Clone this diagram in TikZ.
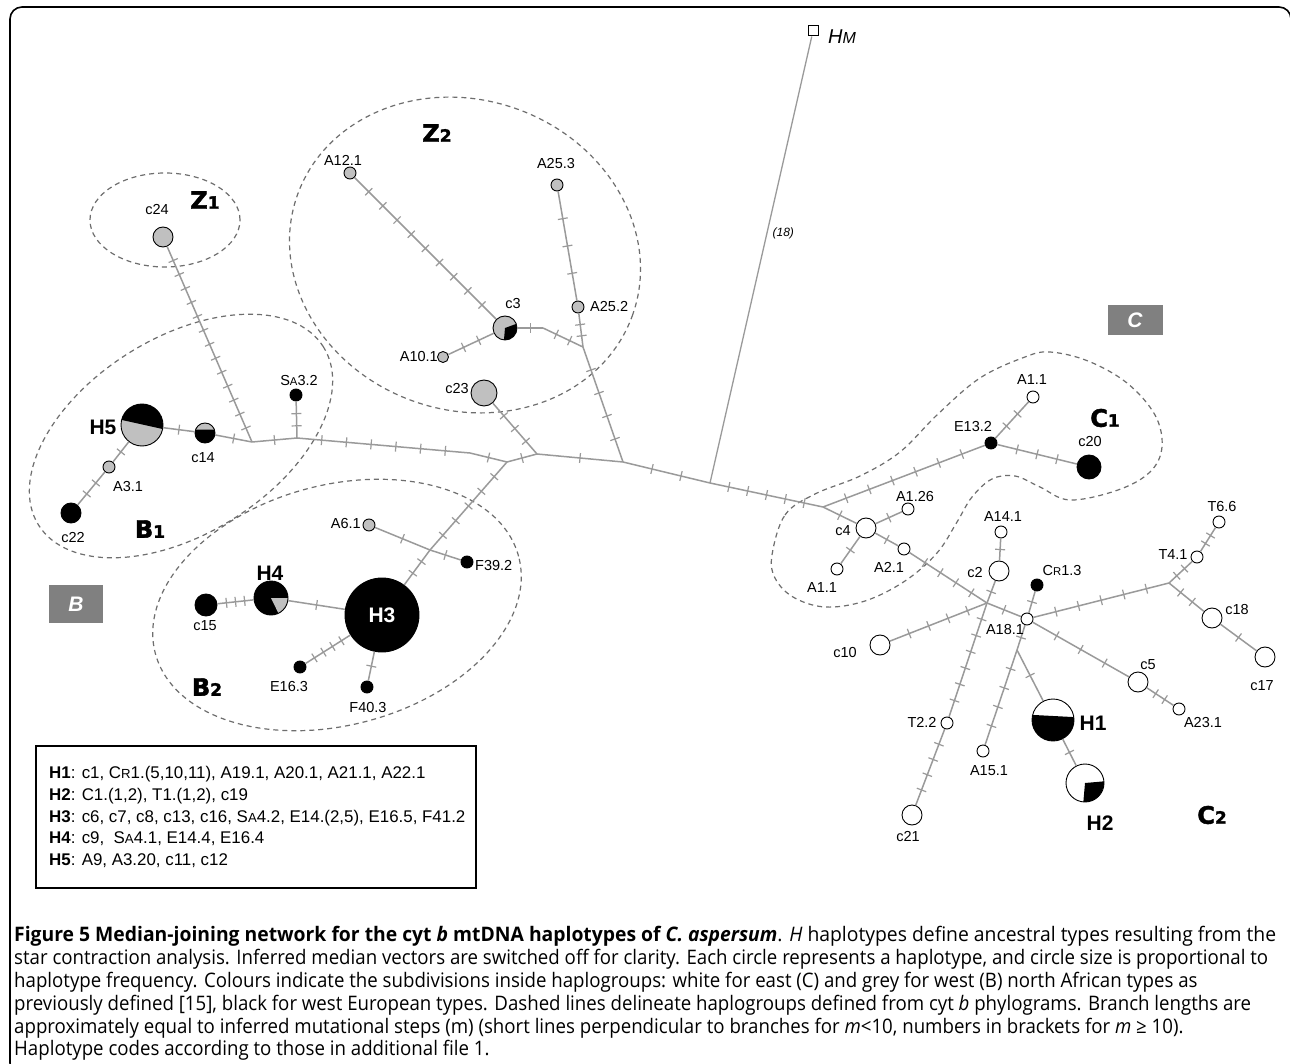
\documentclass[tikz,border=0pt]{standalone}
\usepackage{fontspec}
\setmainfont{Liberation Sans}
\newfontfamily\capfont{Open Sans}
\newfontfamily\grpfont[FakeBold=2]{DejaVu Sans}
\usetikzlibrary{calc,decorations.markings}
\definecolor{edgegray}{HTML}{9A9A9A}
\definecolor{hgray}{HTML}{C0C0C0}
\definecolor{dashgray}{HTML}{6E6E6E}
\definecolor{boxgray}{HTML}{808080}
\newcommand\lsize{\fontsize{14.5}{16}\selectfont}
\newcommand\sca[1]{\scalebox{0.78}{#1}}
\newcommand\grp[2]{{\grpfont\bfseries\fontsize{24}{24}\selectfont #1{\fontsize{17}{17}\selectfont #2}}}
\newsavebox\capbox
\newcommand\capsz{\capfont\fontsize{20}{23}\selectfont}
\newcommand\capmeasure[2]{\sbox\capbox{\capsz #2}%
  \pgfmathsetmacro\capfac{#1/\wd\capbox}\xdef\capG{\capfac}\scalebox{\capG}[1]{\usebox\capbox}}
\newcommand\capfitw[2]{\sbox\capbox{\capsz #2}%
  \pgfmathsetmacro\capfacl{#1/\wd\capbox}\scalebox{\capfacl}[1]{\usebox\capbox}}
\newcommand\capuse[1]{\sbox\capbox{\capsz #1}\scalebox{\capG}[1]{\usebox\capbox}}
\tikzset{
  edge/.style={draw=edgegray, line width=1.5pt},
  tk/.style={postaction={decorate, decoration={markings,
      mark=between positions {1/(#1+1)} and {(#1+0.5)/(#1+1)} step {1/(#1+1)} with {\draw[draw=edgegray, line width=1.2pt] (0pt,-5pt) -- (0pt,5pt);}}}},
  hap/.style={circle, draw=black, line width=0.9pt, inner sep=0pt, minimum size=#1},
  hg/.style={hap=#1, fill=hgray},
  hb/.style={hap=#1, fill=black},
  hw/.style={hap=#1, fill=white},
  lbl/.style={font=\lsize, inner sep=0pt},
  hlab/.style={font=\bfseries\fontsize{21}{21}\selectfont, inner sep=0pt},
  grpc/.style={dashed, draw=dashgray, line width=1.2pt, dash pattern=on 5pt off 4pt},
  gbox/.style={fill=boxgray, text=white, font=\bfseries\itshape\fontsize{21}{21}\selectfont, inner sep=0pt},
  lgline/.style={anchor=base west, inner sep=0pt, font=\fontsize{16.9}{18}\selectfont},
  capl/.style={anchor=base west, inner sep=0pt}
}
\begin{document}
\begin{tikzpicture}[x=1pt, y=-1pt]
\useasboundingbox (0,0) rectangle (1290,1064);
\fill[white] (0,0) rectangle (1290,1064);
\draw[line width=1.6pt, rounded corners=12pt] (10,7) rectangle (1291,1075);

% group outlines
\draw[grpc] (165,220) ellipse [x radius=75pt, y radius=47pt];
\draw[grpc, rotate around={-20:(465,255)}] (465,255) ellipse [x radius=178pt, y radius=155pt];
\draw[grpc, rotate around={32:(181,436)}] (181,436) ellipse [x radius=168pt, y radius=98pt];
\draw[grpc, rotate around={15:(337,605)}] (337,605) ellipse [x radius=188pt, y radius=120pt];
\draw[grpc] plot[smooth cycle, tension=0.6] coordinates {(772,555) (785,515) (815,494) (860,476) (900,452) (938,414) (980,378) (1025,357) (1050,352) (1088,361) (1127,383) (1155,415) (1162,447) (1150,472) (1118,490) (1070,500) (1040,487) (1015,476) (992,479) (972,497) (957,522) (937,553) (905,581) (865,601) (825,607) (793,597) (775,578)};

% junctions
\coordinate (J1) at (252,442);
\coordinate (J2) at (297,438);
\coordinate (Bk) at (470,453);
\coordinate (J3) at (507,462);
\coordinate (J4) at (537,454);
\coordinate (J5) at (623,462);
\coordinate (J6) at (710,483);
\coordinate (J7) at (823,507);
\coordinate (Jc3) at (583,347);
\coordinate (Kc3) at (543,328);
\coordinate (X1) at (430,550);
\coordinate (X2) at (987,603);
\coordinate (Tj) at (1169,583);
\coordinate (Yj) at (1017,650);

% haplotype nodes, left
\node[hg=20pt] (c24) at (163,237) {};
\node[hg=12pt] (A121) at (350,173) {};
\node[hg=12pt] (A253) at (557,185) {};
\node[hg=12pt] (A252) at (578,307) {};
\node[hg=24pt, path picture={\fill[black] (path picture bounding box.center) -- ++(20:12pt) arc[start angle=20, end angle=-95, radius=12pt] -- cycle;}] (c3) at (505,328) {};
\node[hg=11pt] (A101) at (443,357) {};
\node[hg=26pt] (c23) at (484,393) {};
\node[hb=12pt] (SA32) at (296,395) {};
\node[hg=42pt, path picture={\fill[black] ([shift={(-11:21pt)}]path picture bounding box.center) arc[start angle=-11, end angle=166, radius=21pt] -- cycle;}] (H5) at (142,425) {};
\node[hb=20pt, path picture={\fill[hgray] ([shift={(20:10pt)}]path picture bounding box.center) arc[start angle=20, end angle=160, radius=10pt] -- cycle;}] (c14) at (205,433) {};
\node[hg=12pt] (A31) at (109,467) {};
\node[hb=20pt] (c22) at (71,513) {};
\node[hg=12pt] (A61) at (369,525) {};
\node[hb=12pt] (F392) at (467,562) {};
\node[hb=34pt, path picture={\fill[hgray] (path picture bounding box.center) -- ++(0:17pt) arc[start angle=0, end angle=-64, radius=17pt] -- cycle;}] (H4) at (271,598) {};
\node[hb=22pt] (c15) at (206,605) {};
\node[hb=74pt, text=white, font=\bfseries\fontsize{21}{21}\selectfont] (H3) at (382,615) {H3};
\node[hb=12pt] (E163) at (300,667) {};
\node[hb=12pt] (F403) at (367,687) {};
\node[draw=black, line width=1pt, fill=white, minimum size=10pt, inner sep=0pt] (HM) at (813,31) {};

% haplotype nodes, right
\node[hw=12pt] (A11a) at (1033,397) {};
\node[hb=12pt] (E132) at (991,443) {};
\node[hb=24pt] (c20) at (1089,467) {};
\node[hw=12pt] (A126) at (908,509) {};
\node[hw=20pt] (c4) at (866,528) {};
\node[hw=12pt] (A11b) at (837,569) {};
\node[hw=12pt] (A21) at (904,549) {};
\node[hw=12pt] (A141) at (1001,532) {};
\node[hw=20pt] (c2) at (999,571) {};
\node[hb=12pt] (Cr13) at (1037,585) {};
\node[hw=12pt] (A181) at (1027,619) {};
\node[hw=12pt] (T66) at (1219,522) {};
\node[hw=12pt] (T41) at (1197,557) {};
\node[hw=20pt] (c18) at (1212,618) {};
\node[hw=20pt] (c17) at (1265,657) {};
\node[hw=20pt] (c10) at (880,645) {};
\node[hw=20pt] (c5) at (1138,682) {};
\node[hw=12pt] (A231) at (1179,709) {};
\node[hw=12pt] (T22) at (947,723) {};
\node[hw=12pt] (A151) at (983,751) {};
\node[hw=20pt] (c21) at (912,815) {};
\node[hw=42pt, path picture={\fill[black] ([shift={(166:21pt)}]path picture bounding box.center) arc[start angle=166, end angle=368, radius=21pt] -- cycle;}] (H1) at (1053,720) {};
\node[hw=38pt, path picture={\fill[black] (path picture bounding box.center) -- ++(5:19pt) arc[start angle=5, end angle=-95, radius=19pt] -- cycle;}] (H2) at (1085,783) {};

% branches
\draw[edge, tk=13] (c24) -- (J1);
\draw[edge, tk=1] (H5) -- (c14);
\draw[edge, tk=1] (c14) -- (J1);
\draw[edge, tk=1] (J1) -- (J2);
\draw[edge, tk=2] (SA32) -- (J2);
\draw[edge, tk=6] (J2) -- (Bk);
\draw[edge, tk=1] (Bk) -- (J3);
\draw[edge, tk=1] (H5) -- (A31);
\draw[edge, tk=2] (A31) -- (c22);
\draw[edge, tk=1] (J3) -- (J4);
\draw[edge, tk=1] (J4) -- (J5);
\draw[edge, tk=3] (c23) -- (J4);
\draw[edge, tk=4] (Jc3) -- (J5);
\draw[edge, tk=2] (A252) -- (Jc3);
\draw[edge, tk=3] (A253) -- (A252);
\draw[edge, tk=1] (c3) -- (Kc3);
\draw[edge, tk=2] (Kc3) -- (Jc3);
\draw[edge, tk=9] (A121) -- (c3);
\draw[edge, tk=2] (c3) -- (A101);
\draw[edge, tk=5] (J3) -- (X1);
\draw[edge, tk=2] (X1) -- (H3);
\draw[edge, tk=1] (A61) -- (X1);
\draw[edge, tk=1] (X1) -- (F392);
\draw[edge, tk=1] (H4) -- (H3);
\draw[edge, tk=3] (c15) -- (H4);
\draw[edge, tk=4] (H3) -- (E163);
\draw[edge, tk=1] (H3) -- (F403);
\draw[edge, tk=2] (J5) -- (J6);
\draw[edge, line width=1.3pt] (J6) -- node[pos=0.56, right=5pt, font=\itshape\fontsize{12}{12}\selectfont, inner sep=0pt] (t18) {(18)} (HM);
\draw[edge, tk=5] (J6) -- (J7);
\draw[edge, tk=6] (J7) -- (E132);
\draw[edge, tk=2] (E132) -- (A11a);
\draw[edge, tk=3] (E132) -- (c20);
\draw[edge, tk=1] (J7) -- (c4);
\draw[edge, tk=1] (c4) -- (A126);
\draw[edge, tk=1] (c4) -- (A11b);
\draw[edge, tk=1] (c4) -- (A21);
\draw[edge, tk=4] (A21) -- (X2);
\draw[edge, tk=1] (X2) -- (A181);
\draw[edge, tk=1] (A141) -- (c2);
\draw[edge, tk=1] (c2) -- (X2);
\draw[edge, tk=4] (c10) -- (X2);
\draw[edge, tk=6] (X2) -- (T22);
\draw[edge, tk=4] (T22) -- (c21);
\draw[edge, tk=1] (Cr13) -- (A181);
\draw[edge, tk=5] (A181) -- (Tj);
\draw[edge, tk=2] (Tj) -- (T41);
\draw[edge, tk=2] (T41) -- (T66);
\draw[edge, tk=2] (Tj) -- (c18);
\draw[edge, tk=1] (c18) -- (c17);
\draw[edge, tk=3] (A181) -- (c5);
\draw[edge, tk=2] (c5) -- (A231);
\draw[edge, tk=1] (A181) -- (Yj);
\draw[edge, tk=1] (Yj) -- (H1);
\draw[edge, tk=4] (Yj) -- (A151);
\draw[edge, tk=1] (H1) -- (H2);

% labels left
\node[lbl] (tc24) at (157,210) {c24};
\node[lbl] (tA121) at (343,160) {A12.1};
\node[lbl] (tA253) at (556,164) {A25.3};
\node[lbl, anchor=west] (tA252) at (590,307) {A25.2};
\node[lbl] (tc3) at (513,304) {c3};
\node[lbl, anchor=east] (tA101) at (438,357) {A10.1};
\node[lbl, anchor=east] (tc23) at (469,389) {c23};
\node[lbl] (tSA32) at (299,381) {S\sca{A}3.2};
\node[hlab] (tH5) at (103,427) {H5};
\node[lbl] (tc14) at (203,458) {c14};
\node[lbl] (tA31) at (128,487) {A3.1};
\node[lbl] (tc22) at (73,538) {c22};
\node[lbl, anchor=east] (tA61) at (361,524) {A6.1};
\node[lbl, anchor=west] (tF392) at (475,566) {F39.2};
\node[hlab] (tH4) at (270,573) {H4};
\node[lbl] (tc15) at (205,626) {c15};
\node[lbl] (tE163) at (289,687) {E16.3};
\node[lbl] (tF403) at (368,708) {F40.3};
\node[inner sep=0pt, anchor=west] (tHM) at (828,37) {\fontsize{20}{20}\selectfont\itshape H\scalebox{0.8}{M}};
% labels right
\node[lbl] (tA11a) at (1032,380) {A1.1};
\node[lbl] (tE132) at (973,427) {E13.2};
\node[lbl] (tc20) at (1090,442) {c20};
\node[lbl] (tA126) at (915,497) {A1.26};
\node[lbl] (tc4) at (843,531) {c4};
\node[lbl] (tA11b) at (822,588) {A1.1};
\node[lbl] (tA21) at (889,567) {A2.1};
\node[lbl] (tA141) at (1003,517) {A14.1};
\node[lbl] (tc2) at (975,573) {c2};
\node[lbl] (tCr13) at (1062,571) {C\sca{R}1.3};
\node[lbl] (tT66) at (1222,507) {T6.6};
\node[lbl] (tT41) at (1173,555) {T4.1};
\node[lbl] (tA181) at (1005,630) {A18.1};
\node[lbl] (tc18) at (1237,610) {c18};
\node[lbl] (tc17) at (1262,686) {c17};
\node[lbl] (tc10) at (845,653) {c10};
\node[lbl] (tc5) at (1148,665) {c5};
\node[lbl] (tA231) at (1203,723) {A23.1};
\node[lbl] (tT22) at (922,722) {T2.2};
\node[lbl] (tA151) at (989,771) {A15.1};
\node[hlab] (tH1) at (1093,723) {H1};
\node[hlab] (tH2) at (1100,823) {H2};
\node[lbl] (tc21) at (908,837) {c21};

% group labels
\node[inner sep=0pt] (gZ1) at (205,200) {\grp{Z}{1}};
\node[inner sep=0pt] (gZ2) at (437,133) {\grp{Z}{2}};
\node[inner sep=0pt] (gB1) at (150,529) {\grp{B}{1}};
\node[inner sep=0pt] (gB2) at (207,687) {\grp{B}{2}};
\node[inner sep=0pt] (gC1) at (1105,418) {\grp{C}{1}};
\node[inner sep=0pt] (gC2) at (1212,815) {\grp{C}{2}};
\node[gbox, minimum width=54pt, minimum height=38pt] (Bbox) at (76,604) {B};
\node[gbox, minimum width=55pt, minimum height=30pt] (Cbox) at (1135,320) {C};

% legend
\node[draw=black, line width=1.6pt, minimum width=440pt, minimum height=142pt, anchor=north west, inner sep=0pt] (legend) at (35,745) {};
\node[lgline] (lg1) at (49,778) {\textbf{H1}: c1, C\sca{R}1.(5,10,11), A19.1, A20.1, A21.1, A22.1};
\node[lgline] (lg2) at (49,800) {\textbf{H2}: C1.(1,2), T1.(1,2), c19};
\node[lgline] (lg3) at (49,822) {\textbf{H3}: c6, c7, c8, c13, c16, S\sca{A}4.2, E14.(2,5), E16.5, F41.2};
\node[lgline] (lg4) at (49,843) {\textbf{H4}: c9, \ S\sca{A}4.1, E14.4, E16.4};
\node[lgline] (lg5) at (49,865) {\textbf{H5}: A9, A3.20, c11, c12};

% caption (line 2 sets the common horizontal compression)
\node[capl] (cap2) at (14,964) {\capmeasure{1254}{star contraction analysis. Inferred median vectors are switched off for clarity. Each circle represents a haplotype, and circle size is proportional to}};
\node[capl] (cap1) at (14,941) {\capfitw{1262}{{\bfseries Figure 5 Median-joining network for the cyt \textit{b} mtDNA haplotypes of \textit{C. aspersum}}. \textit{H} haplotypes define ancestral types resulting from the}};
\node[capl] (cap3) at (14,987) {\capuse{haplotype frequency. Colours indicate the subdivisions inside haplogroups: white for east (C) and grey for west (B) north African types as}};
\node[capl] (cap4) at (14,1010) {\capuse{previously defined [15], black for west European types. Dashed lines delineate haplogroups defined from cyt \textit{b} phylograms. Branch lengths are}};
\node[capl] (cap5) at (14,1033) {\capuse{approximately equal to inferred mutational steps (m) (short lines perpendicular to branches for \textit{m}<10, numbers in brackets for \textit{m} ≥ 10).}};
\node[capl] (cap6) at (14,1055) {\capuse{Haplotype codes according to those in additional file 1.}};
\end{tikzpicture}
\end{document}
